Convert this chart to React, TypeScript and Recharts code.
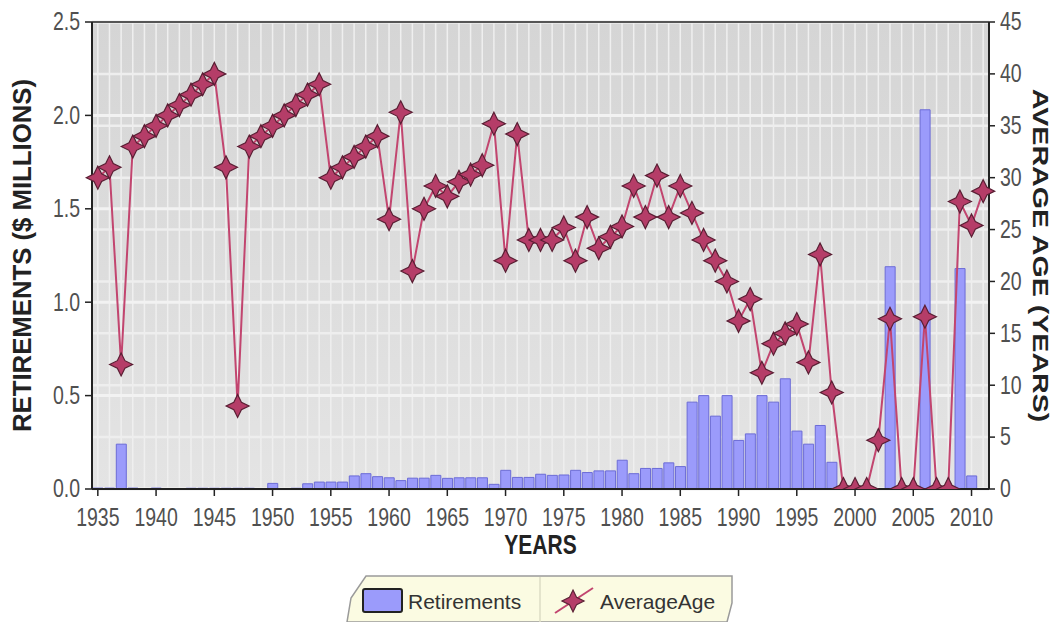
import {
  ComposedChart,
  Bar,
  Line,
  XAxis,
  YAxis,
  CartesianGrid,
  ReferenceLine,
  Label,
} from "recharts";

const YEARS = [
  1935, 1936, 1937, 1938, 1939, 1940, 1941, 1942, 1943, 1944,
  1945, 1946, 1947, 1948, 1949, 1950, 1951, 1952, 1953, 1954,
  1955, 1956, 1957, 1958, 1959, 1960, 1961, 1962, 1963, 1964,
  1965, 1966, 1967, 1968, 1969, 1970, 1971, 1972, 1973, 1974,
  1975, 1976, 1977, 1978, 1979, 1980, 1981, 1982, 1983, 1984,
  1985, 1986, 1987, 1988, 1989, 1990, 1991, 1992, 1993, 1994,
  1995, 1996, 1997, 1998, 1999, 2000, 2001, 2002, 2003, 2004,
  2005, 2006, 2007, 2008, 2009, 2010, 2011,
];

// $ millions
const RETIREMENTS = [
  0.005, 0.005, 0.24, 0.005, 0, 0.005, 0, 0, 0.004, 0.004,
  0.004, 0.004, 0.004, 0.004, 0, 0.03, 0, 0.004, 0.028, 0.037,
  0.037, 0.037, 0.07, 0.082, 0.066, 0.06, 0.045, 0.058, 0.058, 0.073,
  0.057, 0.06, 0.06, 0.06, 0.025, 0.1, 0.062, 0.062, 0.079, 0.073,
  0.075, 0.1, 0.088, 0.097, 0.097, 0.154, 0.082, 0.11, 0.11, 0.14,
  0.12, 0.465, 0.5, 0.39, 0.5, 0.26, 0.295, 0.5, 0.465, 0.59,
  0.31, 0.24, 0.34, 0.143, 0, 0, 0, 0, 1.19, 0,
  0, 2.03, 0, 0, 1.18, 0.07, 0,
];

// years
const AVERAGE_AGE = [
  30, 31, 12, 33, 34, 35, 36, 37, 38, 39,
  40, 31, 8, 33, 34, 35, 36, 37, 38, 39,
  30, 31, 32, 33, 34, 26, 36.3, 21, 27, 29.2,
  28.2, 29.6, 30.3, 31.2, 35.2, 22, 34.2, 24, 24, 24,
  25.2, 22, 26.2, 23.2, 24.3, 25.3, 29.2, 26.2, 30.2, 26.2,
  29.2, 26.6, 24, 22, 20, 16.2, 18.3, 11.2, 14, 15,
  15.9, 12.2, 22.6, 9.3, 0, 0, 0, 4.7, 16.4, 0,
  0, 16.6, 0, 0, 27.7, 25.4, 28.7,
];

const LEFT_TICKS = [0, 0.5, 1, 1.5, 2, 2.5];
const RIGHT_TICKS = [0, 5, 10, 15, 20, 25, 30, 35, 40, 45];
const YEAR_LABELS = [
  1935, 1940, 1945, 1950, 1955, 1960, 1965, 1970, 1975, 1980,
  1985, 1990, 1995, 2000, 2005, 2010,
];

const data = YEARS.map((year, i) => ({
  year,
  Retirements: RETIREMENTS[i],
  AverageAge: AVERAGE_AGE[i],
}));

const FONT = '"Liberation Sans", Arial, sans-serif';
const STRETCH = 1.29; // the source picture is a bit taller than wide
const BAR_FILL = "#9b9bfb";
const BAR_EDGE = "#6c6cd6";
const LINE_COLOR = "#c2456f";
const STAR_FILL = "#b53d68";
const STAR_EDGE = "#5a1f34";

function starPath(cx: number, cy: number, r: number, k: number) {
  return `M${cx},${cy - r} L${cx + k},${cy - k} L${cx + r},${cy} L${cx + k},${cy + k} L${cx},${cy + r} L${cx - k},${cy + k} L${cx - r},${cy} L${cx - k},${cy - k} Z`;
}

function TallText({ x, y, anchor, size = 19.5, weight = 400, fill = "#505050", children }: any) {
  return (
    <text
      transform={`translate(${x},${y}) scale(1,${STRETCH})`}
      textAnchor={anchor}
      dominantBaseline="central"
      fontFamily={FONT}
      fontSize={size}
      fontWeight={weight}
      fill={fill}
    >
      {children}
    </text>
  );
}

function XTick({ x, y, payload }: any) {
  if (!YEAR_LABELS.includes(payload.value)) return <g />;
  return (
    <g>
      <line x1={x} x2={x} y1={y} y2={y + 7} stroke="#222" strokeWidth={1.5} />
      <TallText x={x} y={y + 29} anchor="middle">{payload.value}</TallText>
    </g>
  );
}

function LeftTick({ x, y, payload }: any) {
  return <TallText x={x} y={y} anchor="end">{payload.value.toFixed(1)}</TallText>;
}

function RightTick({ x, y, payload }: any) {
  return <TallText x={x} y={y} anchor="start">{payload.value}</TallText>;
}

function LeftTitle({ viewBox }: any) {
  const cx = viewBox.x + 22.5;
  const cy = viewBox.y + viewBox.height / 2;
  return (
    <text
      transform={`translate(${cx},${cy}) scale(1,1.03) rotate(-90)`}
      textAnchor="middle"
      dominantBaseline="central"
      fontFamily={FONT}
      fontSize={25}
      fontWeight={700}
      fill="#222"
    >
      RETIREMENTS ($ MILLIONS)
    </text>
  );
}

function RightTitle({ viewBox }: any) {
  const cx = viewBox.x + 52;
  const cy = viewBox.y + viewBox.height / 2;
  return (
    <text
      transform={`translate(${cx},${cy}) scale(1,1.3) rotate(90)`}
      textAnchor="middle"
      dominantBaseline="central"
      fontFamily={FONT}
      fontSize={22}
      fontWeight={700}
      fill="#222"
    >
      AVERAGE AGE (YEARS)
    </text>
  );
}

function XTitle({ viewBox }: any) {
  return (
    <TallText
      x={viewBox.x + viewBox.width / 2}
      y={viewBox.y + 55}
      anchor="middle"
      size={21}
      weight={700}
      fill="#222"
    >
      YEARS
    </TallText>
  );
}

function StarDot(props: any) {
  const { cx, cy, index } = props;
  if (cx == null || cy == null) return <g key={index} />;
  return (
    <path
      key={index}
      d={starPath(cx, cy, 11.5, 3.8)}
      fill={STAR_FILL}
      stroke={STAR_EDGE}
      strokeWidth={1.2}
    />
  );
}

function LegendBox() {
  return (
    <svg
      width={1058}
      height={622}
      style={{ position: "absolute", left: 0, top: 0, pointerEvents: "none" }}
    >
      <polygon
        points="366,576 732,576 732,603 727,622 347,622 351,598"
        fill="#fbfbe2"
        stroke="#9a9a9a"
        strokeWidth={1.5}
      />
      <line x1={540} x2={540} y1={577} y2={622} stroke="#dcdcc4" strokeWidth={1.5} />
      <rect x={363} y={589} width={39} height={23} rx={2} fill={BAR_FILL} stroke="#222" strokeWidth={2} />
      <text x={408} y={609} fontFamily={FONT} fontSize={21} fill="#333">
        Retirements
      </text>
      <line x1={555} y1={613} x2={593} y2={588} stroke={LINE_COLOR} strokeWidth={2} />
      <path d={starPath(573, 601, 11, 3.6)} fill={STAR_FILL} stroke={STAR_EDGE} strokeWidth={1.2} />
      <text x={600} y={609} fontFamily={FONT} fontSize={21} fill="#333">
        AverageAge
      </text>
    </svg>
  );
}

export default function App() {
  return (
    <div style={{ position: "absolute", left: 0, top: 0, width: 1058, height: 622, background: "#fff" }}>
      <ComposedChart
        width={1058}
        height={622}
        data={data}
        margin={{ top: 22, right: 0, bottom: 93, left: 0 }}
        barCategoryGap={1}
      >
        <defs>
          <linearGradient id="plotBg" x1="0" y1="0" x2="0" y2="1">
            <stop offset="0%" stopColor="#d5d5d5" />
            <stop offset="100%" stopColor="#e4e4e4" />
          </linearGradient>
        </defs>
        <CartesianGrid
          yAxisId="left"
          fill="url(#plotBg)"
          fillOpacity={1}
          stroke="#efefef"
          strokeWidth={1.5}
          horizontal={false}
        />
        <CartesianGrid yAxisId="left" vertical={false} stroke="#f2f2f2" strokeWidth={3} />
        <CartesianGrid yAxisId="right" vertical={false} stroke="#eeeeee" strokeWidth={2.5} />
        <XAxis
          dataKey="year"
          interval={0}
          height={40}
          tickLine={false}
          tickSize={0}
          tickMargin={0}
          tick={<XTick />}
          axisLine={{ stroke: "#222", strokeWidth: 2 }}
        >
          <Label content={<XTitle />} />
        </XAxis>
        <YAxis
          yAxisId="left"
          orientation="left"
          width={92}
          domain={[0, 2.5]}
          ticks={LEFT_TICKS}
          tickSize={7}
          tickMargin={5}
          tick={<LeftTick />}
          tickLine={{ stroke: "#222", strokeWidth: 1.5 }}
          axisLine={{ stroke: "#222", strokeWidth: 2 }}
        >
          <Label content={<LeftTitle />} />
        </YAxis>
        <YAxis
          yAxisId="right"
          orientation="right"
          width={69}
          domain={[0, 45]}
          allowDataOverflow
          ticks={RIGHT_TICKS}
          tickSize={6}
          tickMargin={5}
          tick={<RightTick />}
          tickLine={{ stroke: "#222", strokeWidth: 1.5 }}
          axisLine={{ stroke: "#222", strokeWidth: 2 }}
        >
          <Label content={<RightTitle />} />
        </YAxis>
        <ReferenceLine yAxisId="left" y={2.5} stroke="#555" strokeWidth={2} />
        <Bar
          yAxisId="left"
          dataKey="Retirements"
          fill={BAR_FILL}
          stroke={BAR_EDGE}
          strokeWidth={1}
          isAnimationActive={false}
        />
        <Line
          yAxisId="right"
          dataKey="AverageAge"
          type="linear"
          stroke={LINE_COLOR}
          strokeWidth={2}
          dot={(p: any) => <StarDot key={p.index} {...p} />}
          activeDot={false}
          isAnimationActive={false}
        />
      </ComposedChart>
      <LegendBox />
    </div>
  );
}
